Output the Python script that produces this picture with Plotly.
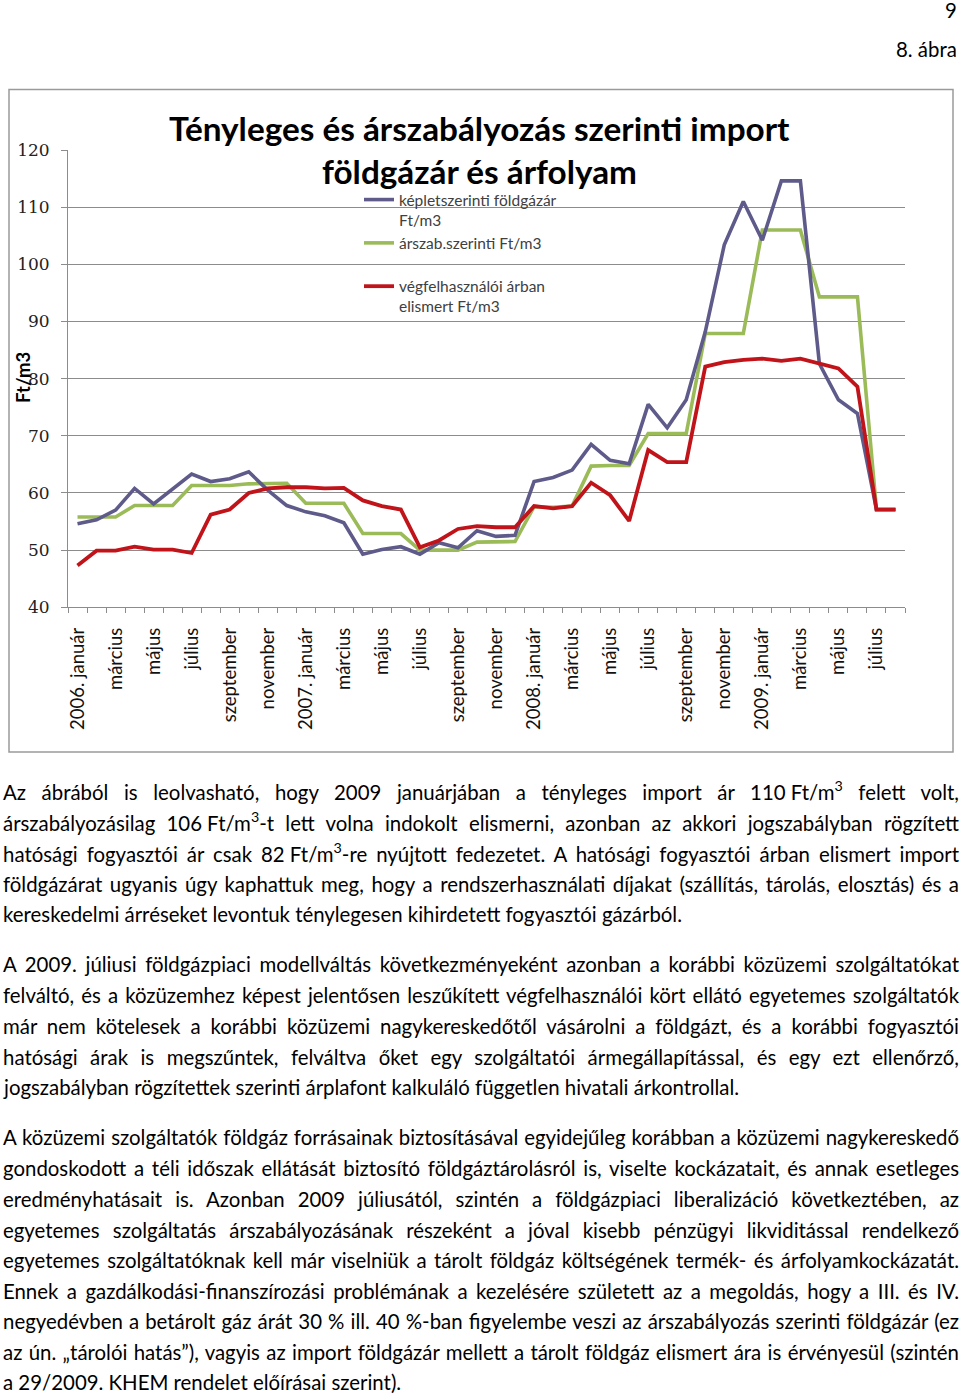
import json
import plotly.graph_objects as go

W, H = 960, 1394

# ---------------- data ----------------
month_names = ["január", "február", "március", "április", "május", "június",
               "július", "augusztus", "szeptember", "október", "november", "december"]
years = [2006, 2007, 2008, 2009]
months = [f"{y}. {m}" for y in years for m in month_names][:44]  # 2006. január .. 2009. augusztus

tick_labels = ["2006. január", "március", "május", "július", "szeptember", "november",
               "2007. január", "március", "május", "július", "szeptember", "november",
               "2008. január", "március", "május", "július", "szeptember", "november",
               "2009. január", "március", "május", "július"]

kepletszerinti = [54.6, 55.3, 57.0, 60.8, 58.1, 60.7, 63.3, 62.0, 62.5, 63.7, 60.5, 57.8,
                  56.7, 56.0, 54.8, 49.3, 50.1, 50.6, 49.3, 51.3, 50.4, 53.4, 52.4, 52.6,
                  62.0, 62.7, 64.0, 68.5, 65.7, 65.1, 75.5, 71.4, 76.3, 88.2, 103.4, 111.0,
                  104.2, 114.6, 114.6, 82.6, 76.3, 73.9, 57.1, 57.1]

arszab = [55.8, 55.8, 55.8, 57.8, 57.8, 57.8, 61.3, 61.3, 61.3, 61.6, 61.7, 61.7,
          58.2, 58.2, 58.2, 52.9, 52.9, 52.9, 50.0, 50.0, 50.0, 51.4, 51.5, 51.5,
          57.6, 57.5, 57.7, 64.7, 64.8, 64.8, 70.4, 70.4, 70.4, 87.9, 87.9, 87.9,
          106.0, 106.0, 106.0, 94.3, 94.3, 94.3, 57.1, 57.1]

vegfelhasznaloi = [47.3, 49.9, 49.9, 50.6, 50.1, 50.1, 49.5, 56.2, 57.1, 60.0, 60.8, 61.0,
                   61.0, 60.8, 60.9, 58.7, 57.7, 57.1, 50.5, 51.7, 53.7, 54.2, 54.0, 54.0,
                   57.7, 57.3, 57.7, 61.8, 59.6, 55.1, 67.5, 65.4, 65.4, 82.1, 82.9, 83.3,
                   83.5, 83.1, 83.5, 82.6, 81.8, 78.6, 57.1, 57.1]

y_ticks = [40, 50, 60, 70, 80, 90, 100, 110, 120]

title_lines = ["Tényleges és árszabályozás szerinti import", "földgázár és árfolyam"]

para1 = [
    "Az ábrából is leolvasható, hogy 2009 januárjában a tényleges import ár 110\u202fFt/m<sup>3</sup> felett volt,",
    "árszabályozásilag 106\u202fFt/m<sup>3</sup>-t lett volna indokolt elismerni, azonban az akkori jogszabályban rögzített",
    "hatósági fogyasztói ár csak 82\u202fFt/m<sup>3</sup>-re nyújtott fedezetet. A hatósági fogyasztói árban elismert import",
    "földgázárat ugyanis úgy kaphattuk meg, hogy a rendszerhasználati díjakat (szállítás, tárolás, elosztás) és a",
    "kereskedelmi árréseket levontuk ténylegesen kihirdetett fogyasztói gázárból.",
]
para2 = [
    "A 2009. júliusi földgázpiaci modellváltás következményeként azonban a korábbi közüzemi szolgáltatókat",
    "felváltó, és a közüzemhez képest jelentősen leszűkített végfelhasználói kört ellátó egyetemes szolgáltatók",
    "már nem kötelesek a korábbi közüzemi nagykereskedőtől vásárolni a földgázt, és a korábbi fogyasztói",
    "hatósági árak is megszűntek, felváltva őket egy szolgáltatói ármegállapítással, és egy ezt ellenőrző,",
    "jogszabályban rögzítettek szerinti árplafont kalkuláló független hivatali árkontrollal.",
]
para3 = [
    "A közüzemi szolgáltatók földgáz forrásainak biztosításával egyidejűleg korábban a közüzemi nagykereskedő",
    "gondoskodott a téli időszak ellátását biztosító földgáztárolásról is, viselte kockázatait, és annak esetleges",
    "eredményhatásait is. Azonban 2009 júliusától, szintén a földgázpiaci liberalizáció következtében, az",
    "egyetemes szolgáltatás árszabályozásának részeként a jóval kisebb pénzügyi likviditással rendelkező",
    "egyetemes szolgáltatóknak kell már viselniük a tárolt földgáz költségének termék- és árfolyamkockázatát.",
    "Ennek a gazdálkodási-finanszírozási problémának a kezelésére született az a megoldás, hogy a III. és IV.",
    "negyedévben a betárolt gáz árát 30 % ill. 40 %-ban figyelembe veszi az árszabályozás szerinti földgázár (ez",
    "az ún. „tárolói hatás”), vagyis az import földgázár mellett a tárolt földgáz elismert ára is érvényesül (szintén",
    "a 29/2009. KHEM rendelet előírásai szerint).",
]

# ---------------- helpers ----------------
def px(x):
    return x / W

def py(y):
    return 1 - y / H

BODY_FONT = "Lato"
BODY_SIZE = 20.4
TEXT_COLOR = "#000000"
GRID = "#8c8c8c"

fig = go.Figure()

fig.add_trace(go.Scatter(x=months, y=arszab, mode="lines",
                         name="árszab.szerinti Ft/m3<br> ",
                         line=dict(color="#9BBB59", width=3.6), legendrank=2))
fig.add_trace(go.Scatter(x=months, y=kepletszerinti, mode="lines",
                         name="képletszerinti földgázár<br>Ft/m3",
                         line=dict(color="#5E5A8A", width=3.6), legendrank=1))
fig.add_trace(go.Scatter(x=months, y=vegfelhasznaloi, mode="lines",
                         name="végfelhasználói árban<br>elismert Ft/m3",
                         line=dict(color="#C0141A", width=3.8), legendrank=3))

ticktext = [tick_labels[i // 2] if i % 2 == 0 else "" for i in range(len(months))]

annotations = []
justify = []

# title
for txt, yc in zip(title_lines, [128.5, 170.5]):
    annotations.append(dict(text=txt, x=px(479), y=py(yc), xref="paper", yref="paper",
                            xanchor="center", yanchor="middle", showarrow=False,
                            font=dict(family="Lato", size=33.3, color="#000", weight=700)))
# y axis title
annotations.append(dict(text="Ft/m3", x=px(23), y=py(378), xref="paper", yref="paper",
                        xanchor="center", yanchor="middle", showarrow=False, textangle=-90,
                        font=dict(family="Lato", size=18.5, color="#000", weight=700)))
# page header
annotations.append(dict(text="9", x=px(958), y=py(10), xref="paper", yref="paper",
                        xanchor="right", yanchor="middle", showarrow=False, borderpad=0,
                        font=dict(family=BODY_FONT, size=BODY_SIZE, color=TEXT_COLOR)))
annotations.append(dict(text="8. ábra", x=px(959), y=py(49), xref="paper", yref="paper",
                        xanchor="right", yanchor="middle", showarrow=False,
                        font=dict(family=BODY_FONT, size=BODY_SIZE, color=TEXT_COLOR)))

# body text
para_y = [
    [791, 821.5, 852.5, 883.5, 913.5],
    [964, 994.5, 1025.5, 1056.5, 1086.5],
    [1137, 1167.5, 1198.5, 1229.5, 1260, 1290.5, 1321, 1351.5, 1382],
]
for lines, ys in zip([para1, para2, para3], para_y):
    for k, (txt, yc) in enumerate(zip(lines, ys)):
        if k < len(lines) - 1:
            justify.append(len(annotations))
        annotations.append(dict(text=txt, x=px(1), y=py(yc), xref="paper", yref="paper",
                                xanchor="left", yanchor="middle", align="left", showarrow=False,
                                font=dict(family=BODY_FONT, size=BODY_SIZE, color=TEXT_COLOR)))

shapes = [dict(type="rect", xref="paper", yref="paper",
               x0=px(9), x1=px(953), y0=py(752), y1=py(89.5),
               line=dict(color="#9a9a9a", width=1.5), fillcolor="rgba(0,0,0,0)", layer="below")]

fig.update_layout(
    width=W, height=H, autosize=False,
    margin=dict(l=0, r=0, t=0, b=0),
    paper_bgcolor="white", plot_bgcolor="white",
    showlegend=True,
    legend=dict(x=px(359), y=py(183), xanchor="left", yanchor="top",
                bgcolor="rgba(0,0,0,0)", valign="top", traceorder="normal",
                font=dict(family="Lato", size=15.5, color="#404040")),
    xaxis=dict(type="category", categoryorder="array", categoryarray=months,
               domain=[px(68), px(905)], range=[-0.5, len(months) - 0.5],
               tickmode="array", tickvals=months, ticktext=ticktext, tickangle=-90,
               ticks="outside", ticklen=5, tickcolor=GRID, tickson="boundaries",
               ticklabelstandoff=12,
               showline=True, linecolor=GRID, linewidth=1, showgrid=False,
               tickfont=dict(family="Lato", size=18.5, color="#111"),
               automargin=False, fixedrange=True),
    yaxis=dict(range=[40, 120], domain=[py(607.3), py(150)],
               tickmode="array", tickvals=y_ticks,
               showgrid=True, gridcolor=GRID, gridwidth=1, zeroline=False,
               showline=True, linecolor=GRID, linewidth=1,
               ticks="outside", ticklen=6, tickcolor=GRID, ticklabelstandoff=8,
               tickfont=dict(family="DejaVu Serif", size=17, color="#222"),
               automargin=False, fixedrange=True),
    annotations=annotations,
    shapes=shapes,
)

post_script = """
document.documentElement.style.margin = '0';
document.body.style.margin = '0';
document.body.style.overflow = 'hidden';
var gd = document.getElementById('{plot_id}');
var J = JUSTIFY;
var TARGET = 956;
J.forEach(function(idx){
  var t = gd.querySelector('g.annotation[data-index="' + idx + '"] text.annotation-text');
  if(!t) return;
  t.style.wordSpacing = '0px';
  var w = t.getComputedTextLength();
  var n = (t.textContent.match(/ /g) || []).length;
  if(n > 0) t.style.wordSpacing = ((TARGET - w) / n) + 'px';
});
""".replace("JUSTIFY", json.dumps(justify))

fig.write_html("out.html", post_script=post_script, config={"displayModeBar": False})
